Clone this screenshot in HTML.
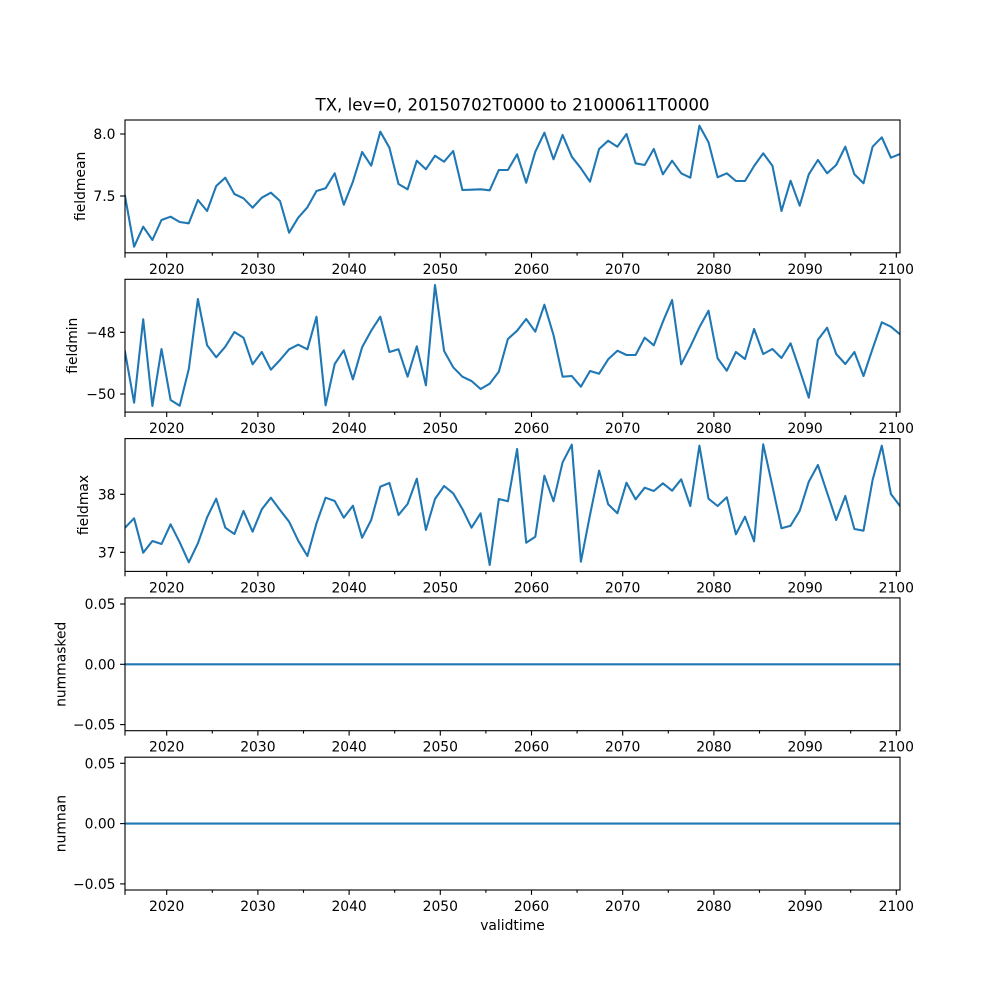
<!DOCTYPE html>
<html>
<head>
<meta charset="utf-8">
<style>
  html, body { margin: 0; padding: 0; background: #ffffff; }
  svg { display: block; }
  text { font-family: "DejaVu Sans", "Liberation Sans", sans-serif; fill: #000; }
  .tick { font-size: 13.89px; }
  .lbl { font-size: 13.89px; }
  .title { font-size: 16.67px; }
  .series { fill: none; stroke: #1f77b4; stroke-width: 2.08; stroke-linejoin: round; stroke-linecap: square; }
  .frame { fill: none; stroke: #000; stroke-width: 1.11; }
  .tk { stroke: #000; stroke-width: 1.11; }
</style>
</head>
<body>
<svg width="1000" height="1000" viewBox="0 0 1000 1000" xmlns="http://www.w3.org/2000/svg">
  <rect x="0" y="0" width="1000" height="1000" fill="#ffffff"/>
  <defs>
    <clipPath id="c1"><rect x="125" y="120" width="775" height="132.8"/></clipPath>
    <clipPath id="c2"><rect x="125" y="279.3" width="775" height="132.8"/></clipPath>
    <clipPath id="c3"><rect x="125" y="438.6" width="775" height="132.8"/></clipPath>
    <clipPath id="c4"><rect x="125" y="597.9" width="775" height="132.8"/></clipPath>
    <clipPath id="c5"><rect x="125" y="757.2" width="775" height="132.8"/></clipPath>
  </defs>

  <!-- Title -->
  <text class="title" x="512.5" y="110.7" text-anchor="middle">TX, lev=0, 20150702T0000 to 21000611T0000</text>

  <!-- Panel 1: fieldmean -->
  <polyline class="series" clip-path="url(#c1)" points="125.0,196 134.1,246.7 143.2,226.7 152.4,240 161.5,220 170.6,216.7 179.7,222 188.8,223.3 197.9,200 207.1,211 216.2,186 225.3,177.7 234.4,194 243.5,198.3 252.6,207.7 261.8,197.7 270.9,192.7 280.0,201 289.1,232.7 298.2,217.7 307.4,207.3 316.5,191 325.6,188.3 334.7,173.3 343.8,204.7 352.9,181.7 362.1,152 371.2,165.7 380.3,131.7 389.4,147.7 398.5,184 407.6,189.3 416.8,160.7 425.9,169.3 435.0,155.7 444.1,161.7 453.2,151 462.4,190 471.5,189.7 480.6,189.3 489.7,190.3 498.8,170 507.9,170 517.1,154.3 526.2,182.7 535.3,151.7 544.4,132.7 553.5,159.3 562.6,135 571.8,156.7 580.9,168.3 590.0,181.7 599.1,149 608.2,140.7 617.4,146.7 626.5,134 635.6,163.3 644.7,165 653.8,149 662.9,174.3 672.1,160.7 681.2,173.3 690.3,177.7 699.4,125.7 708.5,142.3 717.6,177.3 726.8,173.3 735.9,181 745.0,181 754.1,166 763.2,153.3 772.4,165.7 781.5,211 790.6,180.7 799.7,205.7 808.8,174.3 817.9,160 827.1,173.3 836.2,165 845.3,146.7 854.4,174.3 863.5,183.3 872.6,146.7 881.8,137.3 890.9,157.7 900.0,154"/>
  <rect class="frame" x="125" y="120" width="775" height="132.8"/>
  <line class="tk" x1="125" y1="134" x2="120.1" y2="134"/>
  <line class="tk" x1="125" y1="196" x2="120.1" y2="196"/>
  <text class="tick" x="115.5" y="139.1" text-anchor="end">8.0</text>
  <text class="tick" x="115.5" y="201.1" text-anchor="end">7.5</text>
  <text class="lbl" transform="translate(85,186.4) rotate(-90)" text-anchor="middle">fieldmean</text>

  <!-- Panel 2: fieldmin -->
  <polyline class="series" clip-path="url(#c2)" points="125.0,351.7 134.1,402.7 143.2,319.3 152.4,406 161.5,349 170.6,400 179.7,405.7 188.8,369 197.9,299 207.1,345.3 216.2,357.3 225.3,346.7 234.4,332 243.5,337.7 252.6,364.3 261.8,352 270.9,369.7 280.0,360 289.1,349.3 298.2,344.7 307.4,349.3 316.5,316.7 325.6,405.3 334.7,364 343.8,350.3 352.9,379.3 362.1,347.3 371.2,330.7 380.3,316.7 389.4,352 398.5,349.3 407.6,376.7 416.8,346.3 425.9,385.3 435.0,285 444.1,351 453.2,367.3 462.4,376.7 471.5,381 480.6,389 489.7,383.7 498.8,371.7 507.9,339 517.1,330.7 526.2,319 535.3,331.7 544.4,304.7 553.5,335 562.6,376.7 571.8,376 580.9,386.7 590.0,371 599.1,373.7 608.2,359.3 617.4,350.7 626.5,355 635.6,355 644.7,337.7 653.8,345.3 662.9,321.7 672.1,300 681.2,364.3 690.3,346.7 699.4,327.3 708.5,310.7 717.6,358.3 726.8,370.7 735.9,352 745.0,359 754.1,329 763.2,354 772.4,349 781.5,358 790.6,343.3 799.7,370 808.8,397.7 817.9,339.7 827.1,327.7 836.2,354 845.3,364 854.4,352 863.5,376 872.6,348.7 881.8,322.3 890.9,326.7 900.0,334.3"/>
  <rect class="frame" x="125" y="279.3" width="775" height="132.8"/>
  <line class="tk" x1="125" y1="332.3" x2="120.1" y2="332.3"/>
  <line class="tk" x1="125" y1="394" x2="120.1" y2="394"/>
  <text class="tick" x="115.5" y="337.4" text-anchor="end">−48</text>
  <text class="tick" x="115.5" y="399.1" text-anchor="end">−50</text>
  <text class="lbl" transform="translate(77,345.7) rotate(-90)" text-anchor="middle">fieldmin</text>

  <!-- Panel 3: fieldmax -->
  <polyline class="series" clip-path="url(#c3)" points="125.0,527.7 134.1,518.3 143.2,552.7 152.4,541 161.5,544 170.6,524.3 179.7,542.3 188.8,562.3 197.9,543.3 207.1,517.3 216.2,498.7 225.3,527.7 234.4,534 243.5,511 252.6,531.7 261.8,509.3 270.9,497.7 280.0,510 289.1,521.7 298.2,540.7 307.4,556 316.5,523.3 325.6,497.7 334.7,501 343.8,517.7 352.9,505.7 362.1,537.7 371.2,520 380.3,486.7 389.4,483 398.5,515 407.6,504 416.8,478.7 425.9,530 435.0,499 444.1,486 453.2,493.3 462.4,509 471.5,527.7 480.6,513.3 489.7,565 498.8,499 507.9,501.3 517.1,449 526.2,542.7 535.3,536.7 544.4,475.7 553.5,501.3 562.6,462.3 571.8,444.7 580.9,561.7 590.0,515 599.1,470.7 608.2,504.3 617.4,513.3 626.5,482.7 635.6,499.3 644.7,487.7 653.8,491 662.9,483.3 672.1,490.7 681.2,479.3 690.3,506 699.4,445.7 708.5,498.7 717.6,506 726.8,497.3 735.9,534.3 745.0,516.7 754.1,541.3 763.2,444.3 772.4,486 781.5,528.3 790.6,525.7 799.7,510.7 808.8,481.7 817.9,465 827.1,492.7 836.2,520 845.3,496 854.4,529 863.5,530.7 872.6,480 881.8,445.7 890.9,494 900.0,506"/>
  <rect class="frame" x="125" y="438.6" width="775" height="132.8"/>
  <line class="tk" x1="125" y1="494.3" x2="120.1" y2="494.3"/>
  <line class="tk" x1="125" y1="552.3" x2="120.1" y2="552.3"/>
  <text class="tick" x="115.5" y="499.4" text-anchor="end">38</text>
  <text class="tick" x="115.5" y="557.4" text-anchor="end">37</text>
  <text class="lbl" transform="translate(88,505) rotate(-90)" text-anchor="middle">fieldmax</text>

  <!-- Panel 4: nummasked -->
  <line class="series" clip-path="url(#c4)" x1="125" y1="664.3" x2="900" y2="664.3"/>
  <rect class="frame" x="125" y="597.9" width="775" height="132.8"/>
  <line class="tk" x1="125" y1="604" x2="120.1" y2="604"/>
  <line class="tk" x1="125" y1="664.3" x2="120.1" y2="664.3"/>
  <line class="tk" x1="125" y1="724.6" x2="120.1" y2="724.6"/>
  <text class="tick" x="115.5" y="609.1" text-anchor="end">0.05</text>
  <text class="tick" x="115.5" y="669.4" text-anchor="end">0.00</text>
  <text class="tick" x="115.5" y="729.7" text-anchor="end">−0.05</text>
  <text class="lbl" transform="translate(65.5,664.3) rotate(-90)" text-anchor="middle">nummasked</text>

  <!-- Panel 5: numnan -->
  <line class="series" clip-path="url(#c5)" x1="125" y1="823.6" x2="900" y2="823.6"/>
  <rect class="frame" x="125" y="757.2" width="775" height="132.8"/>
  <line class="tk" x1="125" y1="763.3" x2="120.1" y2="763.3"/>
  <line class="tk" x1="125" y1="823.6" x2="120.1" y2="823.6"/>
  <line class="tk" x1="125" y1="883.9" x2="120.1" y2="883.9"/>
  <text class="tick" x="115.5" y="768.4" text-anchor="end">0.05</text>
  <text class="tick" x="115.5" y="828.7" text-anchor="end">0.00</text>
  <text class="tick" x="115.5" y="889.0" text-anchor="end">−0.05</text>
  <text class="lbl" transform="translate(65.5,823.6) rotate(-90)" text-anchor="middle">numnan</text>

  <!-- X ticks for all panels -->
  <g id="xt1">
    <g class="tk">
      <line x1="125" y1="252.8" x2="125" y2="257.7"/>
      <line x1="166.7" y1="252.8" x2="166.7" y2="257.7"/>
      <line x1="257.9" y1="252.8" x2="257.9" y2="257.7"/>
      <line x1="349.1" y1="252.8" x2="349.1" y2="257.7"/>
      <line x1="440.3" y1="252.8" x2="440.3" y2="257.7"/>
      <line x1="531.5" y1="252.8" x2="531.5" y2="257.7"/>
      <line x1="622.7" y1="252.8" x2="622.7" y2="257.7"/>
      <line x1="713.9" y1="252.8" x2="713.9" y2="257.7"/>
      <line x1="805.1" y1="252.8" x2="805.1" y2="257.7"/>
      <line x1="896.3" y1="252.8" x2="896.3" y2="257.7"/>
      <line x1="212.3" y1="252.8" x2="212.3" y2="255.6"/>
      <line x1="303.5" y1="252.8" x2="303.5" y2="255.6"/>
      <line x1="394.7" y1="252.8" x2="394.7" y2="255.6"/>
      <line x1="485.9" y1="252.8" x2="485.9" y2="255.6"/>
      <line x1="577.1" y1="252.8" x2="577.1" y2="255.6"/>
      <line x1="668.3" y1="252.8" x2="668.3" y2="255.6"/>
      <line x1="759.5" y1="252.8" x2="759.5" y2="255.6"/>
      <line x1="850.7" y1="252.8" x2="850.7" y2="255.6"/>
    </g>
    <g class="tick" text-anchor="middle">
      <text x="166.7" y="273.8">2020</text>
      <text x="257.9" y="273.8">2030</text>
      <text x="349.1" y="273.8">2040</text>
      <text x="440.3" y="273.8">2050</text>
      <text x="531.5" y="273.8">2060</text>
      <text x="622.7" y="273.8">2070</text>
      <text x="713.9" y="273.8">2080</text>
      <text x="805.1" y="273.8">2090</text>
      <text x="896.3" y="273.8">2100</text>
    </g>
  </g>
  <use href="#xt1" transform="translate(0,159.3)"/>
  <use href="#xt1" transform="translate(0,318.6)"/>
  <use href="#xt1" transform="translate(0,477.9)"/>
  <use href="#xt1" transform="translate(0,637.2)"/>

  <!-- X label -->
  <text class="lbl" x="512.5" y="930" text-anchor="middle">validtime</text>
</svg>
</body>
</html>
